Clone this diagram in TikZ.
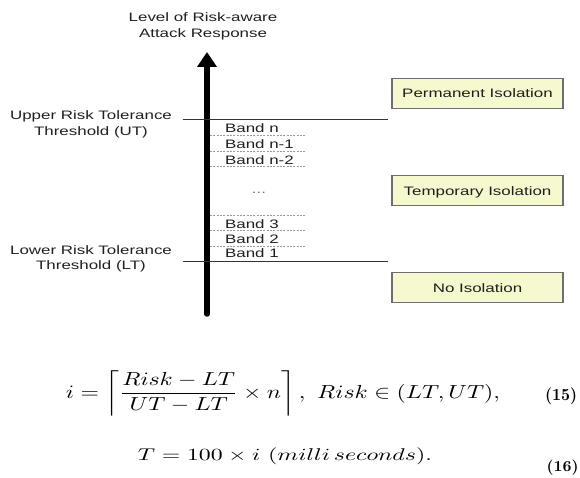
\documentclass[tikz,border=0pt]{standalone}
\usepackage{fontspec}
\usepackage{amsmath}
\usepackage{graphicx}
\usetikzlibrary{arrows.meta}
\newfontfamily\diagfont{Liberation Sans}[FakeStretch=1.38]
\definecolor{boxfill}{RGB}{246,248,206}
\definecolor{boxline}{RGB}{110,110,110}
\tikzset{
  lbl/.style={font=\diagfont\fontsize{9.2pt}{11.8pt}\selectfont, inner sep=0pt, text=black!88},
  bandlbl/.style={lbl, anchor=base west},
  thr/.style={lbl, align=center, anchor=north},
  isobox/.style={lbl, draw=boxline, line width=1.1pt, fill=boxfill,
    minimum width=128.25pt, minimum height=22.5pt, text height=6.6pt, text depth=0pt},
  thrline/.style={draw=black!80, line width=0.9pt},
  bandline/.style={draw=black!40, dash pattern=on 1.5pt off 1pt, line width=0.6pt},
  axisarrow/.style={line width=4.1pt, line cap=round, -{Triangle[width=14.25pt,length=11.25pt]}},
  eqn/.style={inner sep=0pt, anchor=center}
}
\begin{document}
\begin{tikzpicture}[x=0.75pt,y=-0.75pt]
\useasboundingbox (0,0) rectangle (580,477);

% title
\node[thr] (title) at (203,12.3) {Level of Risk-aware\\Attack Response};

% axis
\coordinate (axbot) at (207,314);
\coordinate (axtop) at (207,52);
\draw[axisarrow] (axbot) -- (axtop);

% thresholds
\coordinate (utl) at (182.5,119.5);
\coordinate (utr) at (388,119.5);
\coordinate (ltl) at (182.5,261.5);
\coordinate (ltr) at (388,261.5);
\draw[thrline] (utl) -- (utr);
\draw[thrline] (ltl) -- (ltr);
\node[thr] (ut) at (91,110.6) {Upper Risk Tolerance\\Threshold (UT)};
\node[thr] (lt) at (91,244.9) {Lower Risk Tolerance\\Threshold (LT)};

% band separators
\foreach \yy [count=\k] in {135.7,151.7,166.3,215,230.7,246}{
  \coordinate (bl\k) at (210,\yy);
  \coordinate (br\k) at (306,\yy);
  \draw[bandline] (bl\k) -- (br\k);
}

% band labels
\node[bandlbl] (bandn)  at (224.8,132.6) {Band n};
\node[bandlbl] (bandn1) at (224.8,148.9) {Band n-1};
\node[bandlbl] (bandn2) at (224.8,164.9) {Band n-2};
\node[lbl, anchor=base, text=black!55] (dots) at (259,193) {...};
\node[bandlbl] (band3)  at (224.8,228.3) {Band 3};
\node[bandlbl] (band2)  at (224.8,243.6) {Band 2};
\node[bandlbl] (band1)  at (224.8,257.8) {Band 1};

% isolation boxes
\node[isobox] (perm) at (477.5,93.5)  {Permanent Isolation};
\node[isobox] (temp) at (477.5,190.7) {Temporary Isolation};
\node[isobox] (none) at (477.5,287.7) {No Isolation};

% equations
\node[eqn] (eq15) at (283,393.3) {\resizebox*{325.5pt}{34pt}{$\displaystyle i=\left\lceil\frac{Risk-LT}{UT-LT}\times n\right\rceil,\ Risk\in(LT,UT),$}};
\node[eqn] (n15) at (561,396.7) {\resizebox*{24pt}{12.75pt}{\textbf{(15)}}};
\node[eqn] (eq16) at (285,456.7) {\resizebox*{220.5pt}{12.75pt}{$T=100\times i\ (milli\,seconds).$}};
\node[eqn] (n16) at (562.5,467.5) {\resizebox*{24pt}{11.5pt}{\textbf{(16)}}};
\end{tikzpicture}
\end{document}
